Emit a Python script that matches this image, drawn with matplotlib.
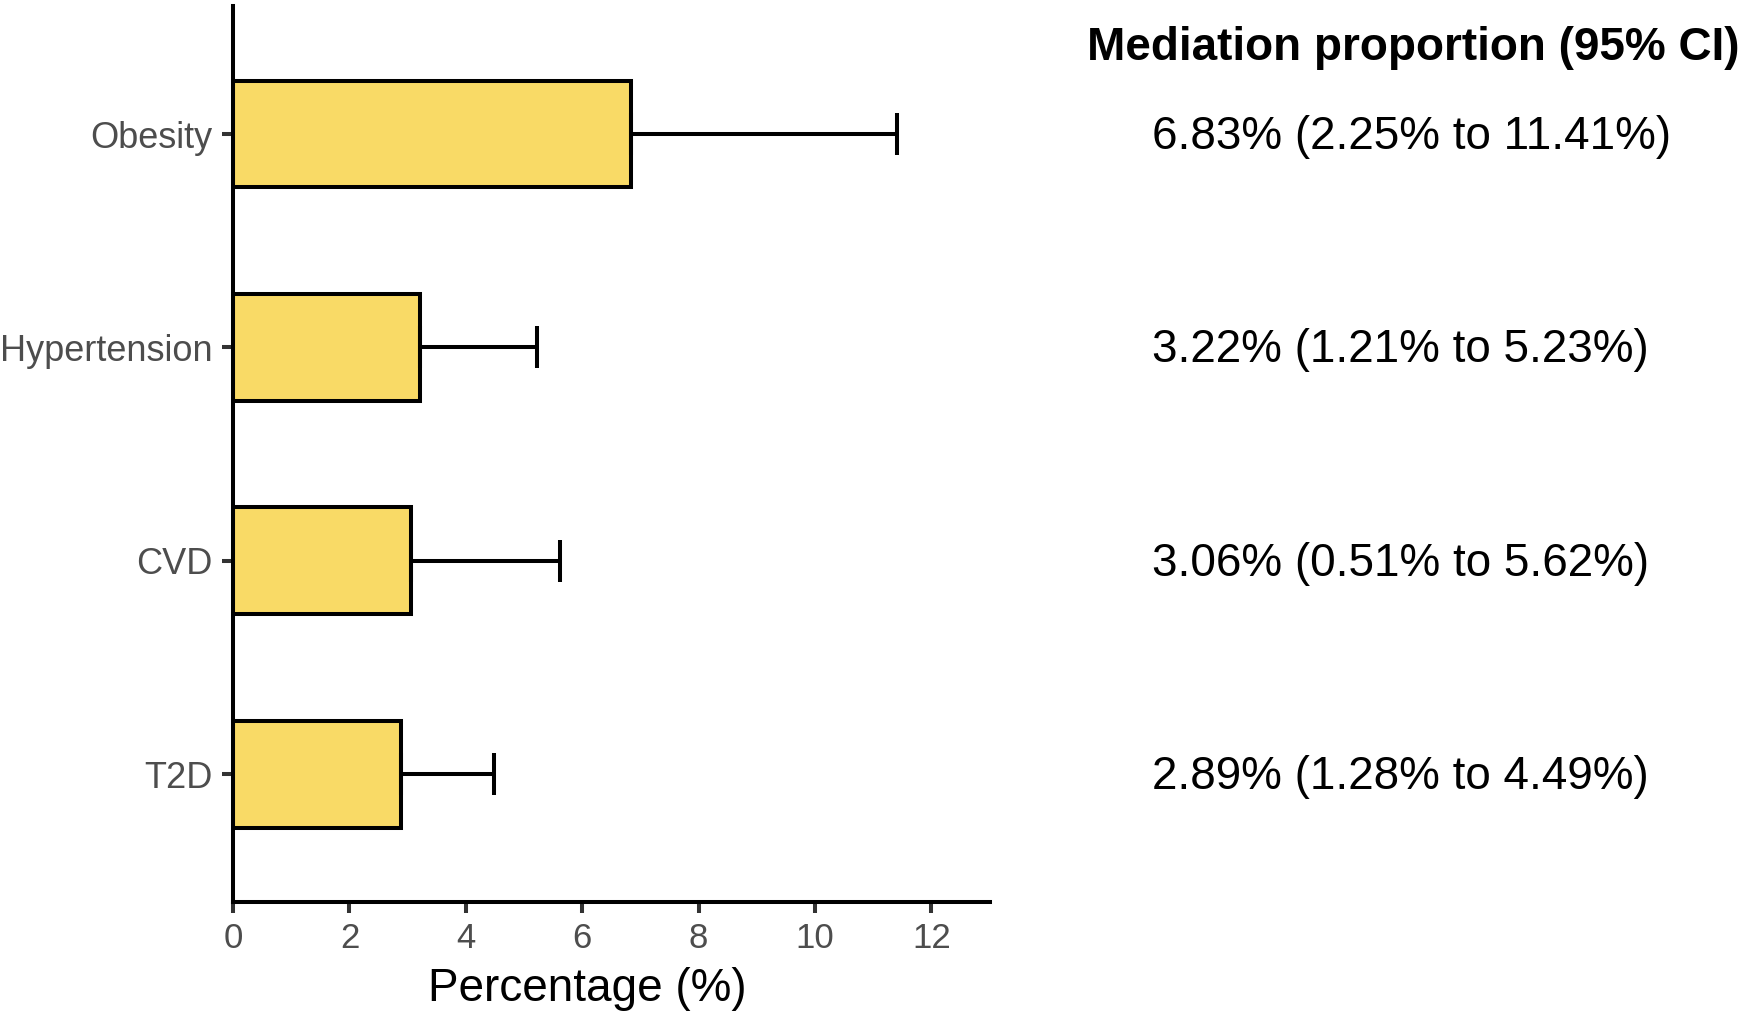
import matplotlib
matplotlib.use("Agg")
import matplotlib.pyplot as plt
import matplotlib.transforms as mtransforms

plt.rcParams['font.family'] = ['Liberation Sans', 'DejaVu Sans']

# Data
outcomes = ['Obesity', 'Hypertension', 'CVD', 'T2D']
proportion = [6.83, 3.22, 3.06, 2.89]
ci_low = [2.25, 1.21, 0.51, 1.28]
ci_high = [11.41, 5.23, 5.62, 4.49]
xticks = [0, 2, 4, 6, 8, 10, 12]

fig = plt.figure(figsize=(17.43, 10.16), dpi=100)
ax = fig.add_axes([0.1337, 0.112, 0.5678 - 0.1337, 0.994 - 0.112])

ypos = list(range(len(outcomes)))[::-1]
bar_col = '#F9DA66'
lw = 2.9

ax.barh(ypos, proportion, height=0.5, color=bar_col, edgecolor='black',
        linewidth=lw, zorder=2)
upper = [h - p for h, p in zip(ci_high, proportion)]
ax.errorbar(proportion, ypos, xerr=[[0] * len(upper), upper], fmt='none',
            ecolor='black', elinewidth=lw, capsize=15, capthick=lw, zorder=3)

ax.set_xlim(0, 13)
ax.set_ylim(-0.6, 3.6)
ax.set_xticks(xticks)
ax.set_yticks(ypos)
ax.set_yticklabels(outcomes)

for side in ['top', 'right']:
    ax.spines[side].set_visible(False)
for side in ['left', 'bottom']:
    ax.spines[side].set_linewidth(lw)
    ax.spines[side].set_capstyle('projecting')

ax.tick_params(axis='both', length=8, width=lw, colors='#333333',
               labelcolor='#4D4D4D', labelsize=25)
ax.tick_params(axis='y', pad=7, labelsize=26)
ax.tick_params(axis='x', pad=6)

ax.set_xlabel('Percentage (%)', fontsize=33, color='black', va='top')
ax.xaxis.set_label_coords(0.468, -0.072)

# right-hand annotation column
trans = mtransforms.blended_transform_factory(fig.transFigure, ax.transData)
trans = trans + mtransforms.ScaledTranslation(0, -3 / 100, fig.dpi_scale_trans)
fig.text(0.6236, 0.953, 'Mediation proportion (95% CI)', fontsize=33,
         fontweight='bold', ha='left', va='center')
for y, p, lo, hi in zip(ypos, proportion, ci_low, ci_high):
    fig.text(0.6608, y, f'{p:.2f}% ({lo:.2f}% to {hi:.2f}%)', fontsize=33,
             ha='left', va='center', transform=trans)

fig.savefig('out.png', dpi=100, facecolor='white')
